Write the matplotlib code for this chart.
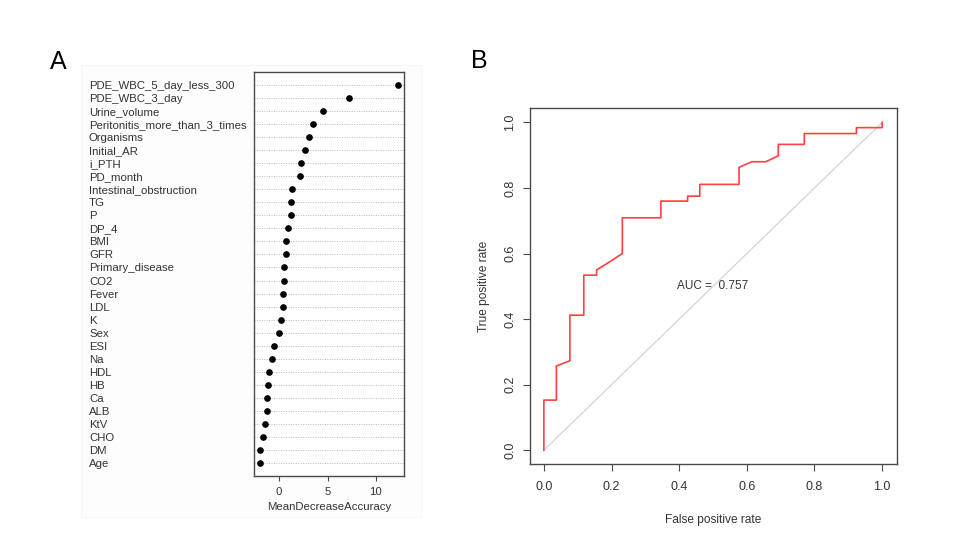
import matplotlib
matplotlib.use("Agg")
import matplotlib.pyplot as plt
from matplotlib.patches import Rectangle

plt.rcParams["font.family"] = ["Liberation Sans", "DejaVu Sans"]

# Panel A: variable importance (top to bottom)
features = ["PDE_WBC_5_day_less_300", "PDE_WBC_3_day", "Urine_volume",
            "Peritonitis_more_than_3_times", "Organisms", "Initial_AR", "i_PTH",
            "PD_month", "Intestinal_obstruction", "TG", "P", "DP_4", "BMI", "GFR",
            "Primary_disease", "CO2", "Fever", "LDL", "K", "Sex", "ESI", "Na",
            "HDL", "HB", "Ca", "ALB", "KtV", "CHO", "DM", "Age"]
importance = [12.3, 7.2, 4.5, 3.5, 3.06, 2.68, 2.27, 2.17, 1.34, 1.2, 1.2, 0.96,
              0.76, 0.76, 0.55, 0.55, 0.38, 0.38, 0.21, 0.0, -0.58, -0.69, -1.1,
              -1.17, -1.24, -1.27, -1.48, -1.65, -1.93, -2.03]

# Panel B: ROC curve
fpr = [0.0, 0.0, 0.037, 0.037, 0.077, 0.077, 0.118, 0.118, 0.156, 0.156, 0.195,
       0.232, 0.232, 0.346, 0.346, 0.425, 0.425, 0.461, 0.461, 0.577, 0.577,
       0.615, 0.656, 0.693, 0.693, 0.77, 0.77, 0.924, 0.924, 1.0, 1.0]
tpr = [0.0, 0.153, 0.153, 0.257, 0.273, 0.412, 0.412, 0.534, 0.534, 0.55, 0.575,
       0.60, 0.709, 0.709, 0.76, 0.76, 0.775, 0.775, 0.811, 0.811, 0.863,
       0.88, 0.88, 0.898, 0.933, 0.933, 0.966, 0.966, 0.984, 0.984, 1.0]
auc_text = "AUC =  0.757"

BOX = "#4a4a4a"
TXT = "#333333"

fig = plt.figure(figsize=(9.65, 5.47), dpi=100)
# faint frame of the pasted panel A image
fig.patches.append(Rectangle((81 / 965, 1 - 517 / 547), 340 / 965, 452 / 547,
                             transform=fig.transFigure, facecolor="#fdfdfd",
                             edgecolor="#f6f6f6", lw=0.8, zorder=-5))

# ---- Panel A ----
ax1 = fig.add_axes([0.2632, 0.1298, 0.1554, 0.7386])
n = len(features)
rows = list(range(n, 0, -1))
for r in rows:
    ax1.axhline(r, color="#b8b8b8", lw=0.7, ls=(0, (1, 1.5)), zorder=1)
ax1.plot(importance, rows, "o", color="black", ms=3.8, zorder=3)
ax1.set_xlim(-2.6, 12.9)
ax1.set_ylim(0, n + 1)
ax1.set_xticks([0, 5, 10])
ax1.set_yticks(rows, features)
ax1.tick_params(axis="y", length=0, pad=118.8, labelsize=8.2, labelcolor=TXT)
for lab in ax1.get_yticklabels():
    lab.set_horizontalalignment("left")
ax1.tick_params(axis="x", length=3.6, width=0.8, color=BOX, pad=4.3,
                labelsize=8.2, labelcolor=TXT)
ax1.set_xlabel("MeanDecreaseAccuracy", fontsize=8.2, color=TXT, labelpad=3.6)
for s in ax1.spines.values():
    s.set_color(BOX)
    s.set_linewidth(1.0)

# ---- Panel B ----
ax2 = fig.add_axes([0.5492, 0.1517, 0.38, 0.6503])
ax2.plot([0, 1], [0, 1], color="#d4d4d4", lw=0.9, zorder=1)
ax2.plot(fpr, tpr, color="#ff4040", lw=1.2, zorder=2)
ax2.text(0.5, 0.5, auc_text, ha="center", va="center", fontsize=8.5, color=TXT)
ax2.set_xlim(-0.041, 1.043)
ax2.set_ylim(-0.042, 1.043)
ticks = [0.0, 0.2, 0.4, 0.6, 0.8, 1.0]
ax2.set_xticks(ticks, ["%.1f" % t for t in ticks])
ax2.set_yticks(ticks, ["%.1f" % t for t in ticks])
ax2.tick_params(length=5, width=0.8, color=BOX, labelsize=9, labelcolor=TXT,
                pad=7)
ax2.tick_params(axis="y", labelrotation=90, pad=5)
for lab in ax2.get_yticklabels():
    lab.set_verticalalignment("center")
ax2.set_xlabel("False positive rate", fontsize=8.6, color=TXT, labelpad=15)
ax2.set_ylabel("True positive rate", fontsize=8.6, color=TXT, labelpad=10)
for s in ax2.spines.values():
    s.set_color(BOX)
    s.set_linewidth(1.0)

fig.text(58 / 965, 1 - 62 / 547, "A", fontsize=18, ha="center", va="center",
         color="black")
fig.text(479 / 965, 1 - 61 / 547, "B", fontsize=18, ha="center", va="center",
         color="black")

fig.savefig("out.png", dpi=100, facecolor="white")
